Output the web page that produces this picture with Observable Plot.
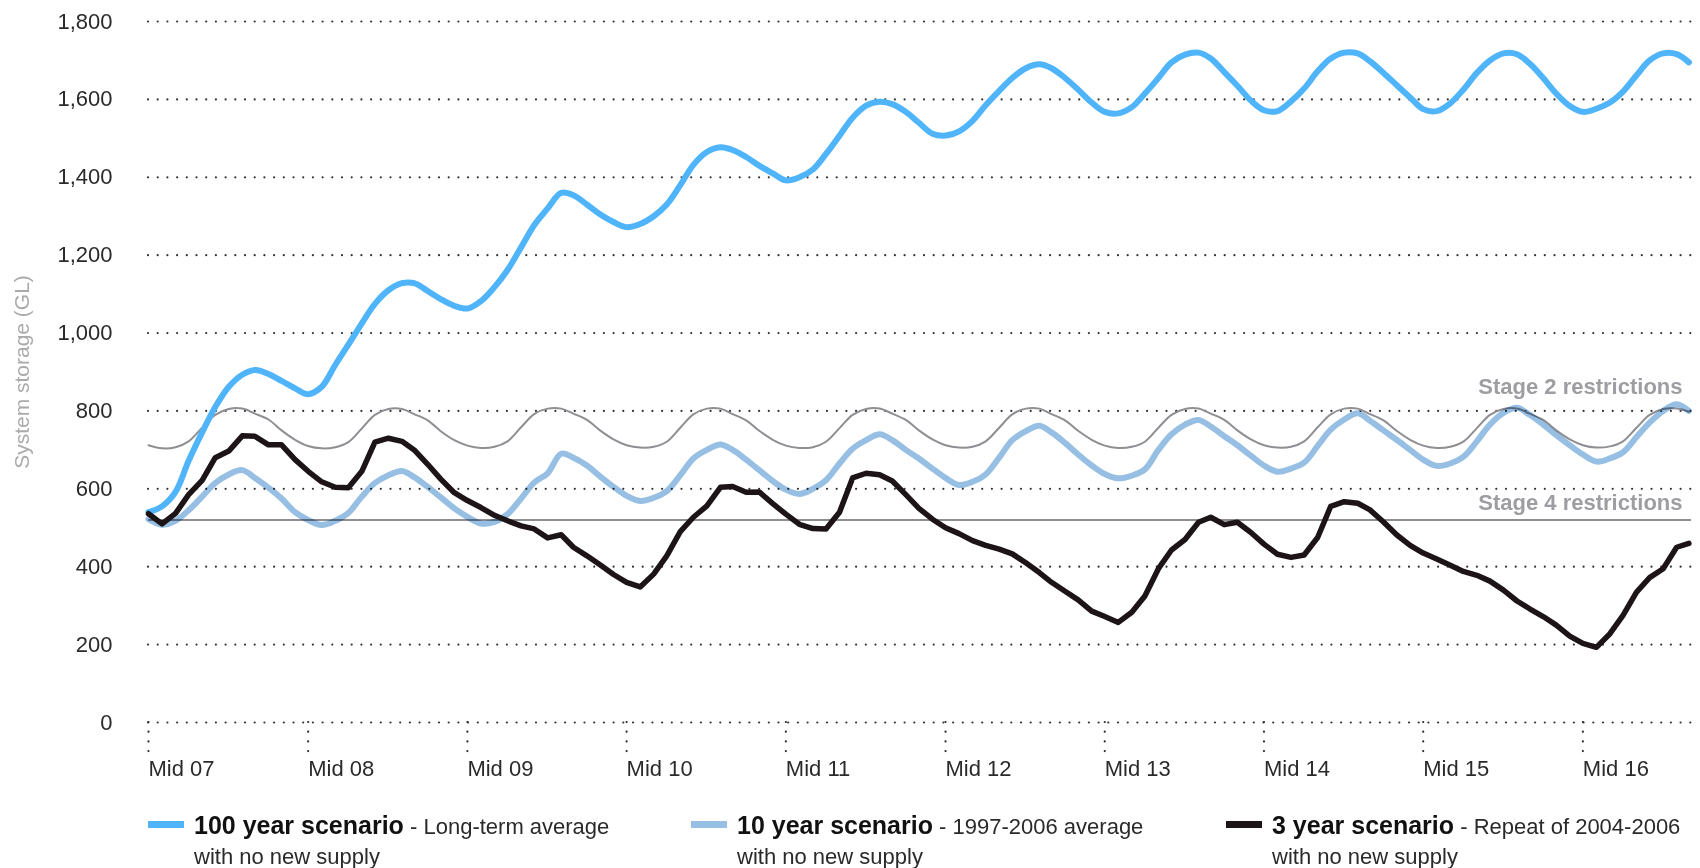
<!DOCTYPE html>
<html><head><meta charset="utf-8">
<script src="https://cdn.jsdelivr.net/npm/d3@7"></script>
<script src="https://cdn.jsdelivr.net/npm/@observablehq/plot@0.6"></script>
<style>
body{margin:0;background:#fff;font-family:"Liberation Sans",Arial,sans-serif;}
#chart svg{display:block;overflow:visible}
#legend{position:relative;width:1700px;height:73px;}
.item{position:absolute;top:0;height:73px;}
.sw{position:absolute;left:0;top:26px;width:36px;height:7px;}
.txt{position:absolute;top:15px;line-height:30px;white-space:nowrap;color:#2a2a2a;font-size:22px}
.txt b{font-size:25px;color:#111}
</style></head><body>
<div id="chart"></div>
<div id="legend"></div>
<script>
// ---- data ----
const startMonth = "2007-07-01";   // first monthly sample (Mid 07)
const endMonth = "2017-04-01";     // exclusive end of monthly samples
const xEnd = "2017-03-07";
const yTicks = [0, 200, 400, 600, 800, 1000, 1200, 1400, 1600, 1800];
const midYears = [2007, 2008, 2009, 2010, 2011, 2012, 2013, 2014, 2015, 2016];

const scenario100 = [
  540, 555, 592, 672, 745, 810, 862, 893, 905, 895, 877, 858,
  843, 862, 918, 970, 1025, 1075, 1110, 1128, 1128, 1108, 1087, 1070,
  1063, 1082, 1118, 1162, 1220, 1277, 1320, 1360, 1354, 1330, 1305, 1285,
  1272, 1280, 1300, 1330, 1380, 1432, 1465, 1477, 1470, 1452, 1430, 1410,
  1392, 1400, 1420, 1460, 1507, 1553, 1584, 1594, 1588, 1568, 1540, 1512,
  1507, 1518, 1545, 1585, 1622, 1655, 1680, 1690, 1680, 1655, 1625, 1592,
  1568, 1564, 1580, 1615, 1655, 1695, 1715, 1720, 1705, 1670, 1635, 1597,
  1572, 1570, 1595, 1628, 1672, 1705, 1720, 1718, 1698, 1668, 1637, 1605,
  1575, 1570, 1590, 1625, 1668, 1700, 1718, 1716, 1692, 1655, 1615, 1583,
  1568, 1576, 1592, 1620, 1662, 1700, 1718, 1716, 1695
];
const scenario10 = [
  522, 508, 518, 545, 580, 615, 637, 648, 628, 603, 575, 540,
  520, 507, 518, 538, 580, 615, 635, 646, 630, 605, 578, 550,
  528, 511, 515, 535, 575, 616, 640, 690, 680, 660, 632, 605,
  582, 569, 577, 594, 635, 678, 700, 714, 700, 675, 648, 620,
  598, 587, 600, 622, 665, 703, 725, 740, 725, 700, 678, 652,
  628, 610, 618, 637, 680, 725, 748, 762, 745, 718, 688, 660,
  638, 627, 634, 650, 700, 740, 765, 777, 760, 735, 712, 685,
  660, 644, 652, 667, 710, 752, 778, 794, 775, 750, 726, 700,
  675, 659, 665, 682, 722, 765, 795, 808, 790, 765, 738, 712,
  688, 670, 678, 694, 733, 770, 800, 817, 800
];
const scenario3 = [
  536, 510, 537, 585, 622, 680, 697, 736, 735, 713, 713, 675,
  645, 618, 604, 603, 645, 720, 730, 722, 700, 663, 625, 590,
  570, 552, 532, 518, 505, 497, 474, 482, 450, 428, 405, 380,
  360, 348, 381, 428, 490, 527, 556, 604, 606, 591, 592, 562,
  535, 509, 498, 497, 540, 628, 640, 636, 620, 585, 550, 522,
  500, 485, 467, 455, 445, 433, 410, 385, 360, 337, 315, 286,
  272, 257, 283, 325, 395, 443, 470, 514, 527, 508, 514, 488,
  458, 432, 424, 430, 475, 555, 567, 563, 546, 515, 482, 455,
  435, 420, 404, 388, 378, 363, 340, 312, 292, 272, 250, 222,
  203, 193, 228, 275, 335, 372, 395, 450, 460
];
const stage2 = [
  712, 704, 707, 722, 757, 790, 805, 806, 793, 778, 750, 726,
  710, 704, 707, 720, 755, 790, 805, 805, 792, 776, 748, 725,
  711, 705, 708, 722, 758, 792, 806, 806, 793, 777, 750, 727,
  712, 706, 708, 721, 757, 791, 806, 806, 792, 776, 749, 726,
  711, 705, 707, 721, 756, 790, 805, 806, 793, 777, 750, 727,
  712, 706, 708, 722, 757, 791, 806, 806, 792, 776, 749, 726,
  711, 705, 708, 721, 757, 790, 805, 806, 793, 777, 750, 727,
  712, 706, 708, 722, 758, 791, 806, 806, 792, 776, 749, 726,
  711, 705, 708, 721, 756, 790, 805, 806, 793, 777, 750, 727,
  712, 706, 709, 722, 757, 790, 805, 806, 798
];
const stage4Level = 520;
const stageNames = ["Stage 2 restrictions", "Stage 4 restrictions"];

const legendTitles = ["100 year scenario", "10 year scenario", "3 year scenario"];
const legendDescs = [" - Long-term average", " - 1997-2006 average", " - Repeat of 2004-2006"];
const legendLine2 = "with no new supply";

// ---- styles ----
const colors = {s100: "#4fb4fa", s10: "#96bfe3", s3: "#1c1416", stage: "#8e8e93"};

const months = d3.utcMonth.range(new Date(startMonth), new Date(endMonth));
const rows = months.map((d, i) => ({date: d, s100: scenario100[i], s10: scenario10[i], s3: scenario3[i], st2: stage2[i]}));
const midDates = midYears.map(y => new Date(Date.UTC(y, 6, 1)));

const chart = Plot.plot({
  width: 1700, height: 795,
  marginLeft: 148, marginRight: 9, marginTop: 21, marginBottom: 73,
  x: {type: "utc", domain: [new Date(startMonth), new Date(xEnd)]},
  y: {domain: [0, 1800]},
  style: {fontFamily: "'Liberation Sans', Arial, sans-serif", background: "#fff", overflow: "visible"},
  marks: [
    Plot.ruleY(yTicks, {stroke: "#333", strokeWidth: 2.2, strokeDasharray: "0,9.7", strokeLinecap: "round"}),
    Plot.axisY({ticks: yTicks, tickSize: 0, tickPadding: 36, fontSize: 22, color: "#2a2a2a", tickFormat: d3.format(","), label: null}),
    Plot.axisY({ticks: [], label: "System storage (GL)", labelAnchor: "center", labelOffset: 134, labelArrow: false, fontSize: 21, color: "#aaa"}),
    Plot.axisX({ticks: midDates, tickFormat: d => "Mid " + String(d.getUTCFullYear()).slice(2), tickSize: 30, tickPadding: 8,
      textAnchor: "start", fontSize: 22, color: "#2a2a2a", strokeDasharray: "0,9.7", strokeLinecap: "round", strokeWidth: 2.2, label: null}),
    Plot.line(rows, {x: "date", y: "st2", stroke: colors.stage, strokeWidth: 2, curve: "catmull-rom"}),
    Plot.ruleY([stage4Level], {stroke: colors.stage, strokeWidth: 2}),
    Plot.line(rows, {x: "date", y: "s10", stroke: colors.s10, strokeWidth: 6, curve: "catmull-rom", mixBlendMode: "multiply"}),
    Plot.line(rows, {x: "date", y: "s100", stroke: colors.s100, strokeWidth: 6, curve: "catmull-rom"}),
    Plot.line(rows, {x: "date", y: "s3", stroke: colors.s3, strokeWidth: 5.5, strokeLinejoin: "round"}),
    Plot.text([{t: stageNames[0], v: 843}, {t: stageNames[1], v: 546}], {
      frameAnchor: "right", y: "v", text: "t", textAnchor: "end", lineAnchor: "bottom", dx: -9,
      fontWeight: "bold", fontSize: 22, fill: "#9d9da2"})
  ]
});
document.getElementById("chart").append(chart);

// ---- legend ----
const legendKeys = ["s100", "s10", "s3"];
const legendLeft = [148, 691, 1226];
const leg = document.getElementById("legend");
legendTitles.forEach((t, i) => {
  const item = document.createElement("div");
  item.className = "item";
  item.style.left = legendLeft[i] + "px";
  const sw = document.createElement("div");
  sw.className = "sw";
  sw.style.background = colors[legendKeys[i]];
  const txt = document.createElement("div");
  txt.className = "txt";
  txt.style.left = "46px";
  const b = document.createElement("b");
  b.textContent = t;
  txt.append(b, document.createTextNode(legendDescs[i]), document.createElement("br"), document.createTextNode(legendLine2));
  item.append(sw, txt);
  leg.append(item);
});
</script>
</body></html>
